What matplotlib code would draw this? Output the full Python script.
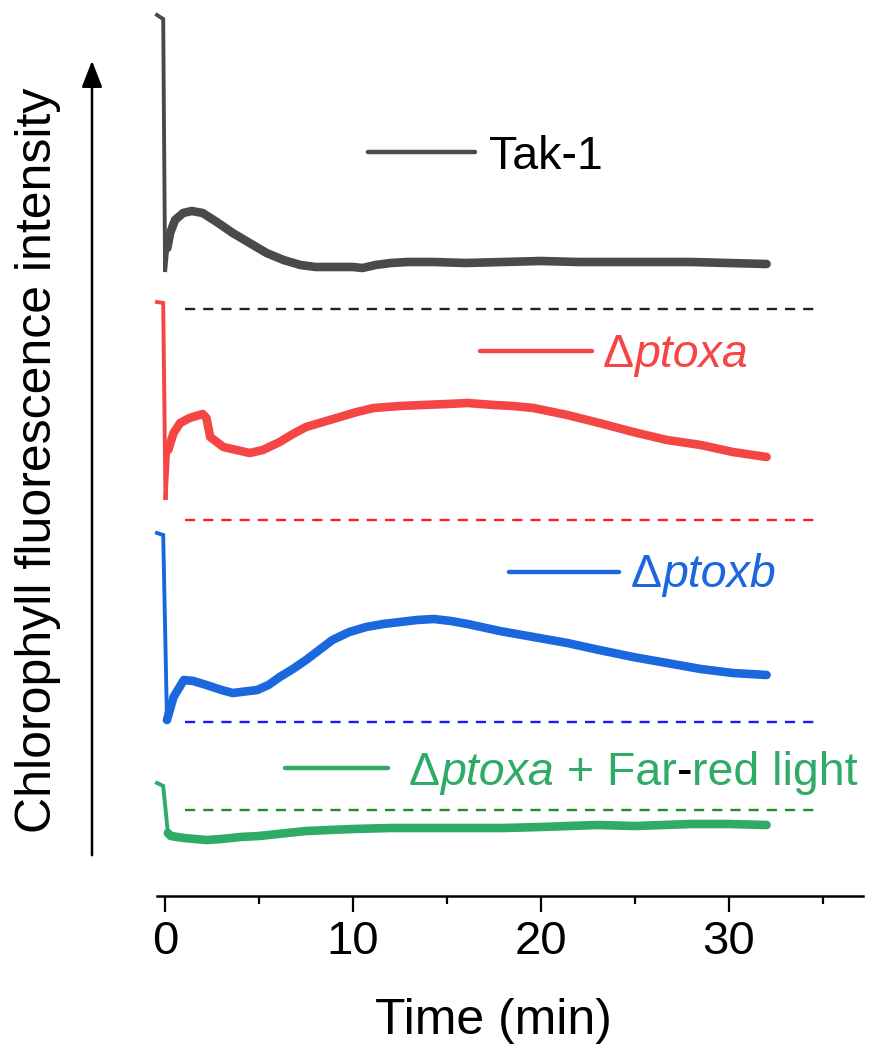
import numpy as np
import matplotlib
matplotlib.use("Agg")
import matplotlib.pyplot as plt
from matplotlib.patches import FancyArrowPatch
from matplotlib.offsetbox import TextArea, HPacker, AnchoredOffsetbox

plt.rcParams['font.family'] = ['Liberation Sans', 'DejaVu Sans']

# ---------------- data (arbitrary fluorescence units) ----------
tak_x = [-0.43, -0.1, 0.0, 0.12, 0.27, 0.53, 0.96, 1.42, 2.0, 2.75, 3.6, 4.5, 5.4, 6.3, 7.2,
         8.0, 8.6, 9.3, 10.0, 10.5, 11.2, 12.0, 12.9, 14.3, 16, 18, 20, 22, 24, 26, 28, 30, 32]
tak_y = [88.1, 87.7, 62.4, 64.8, 66.3, 67.6, 68.3, 68.5, 68.3, 67.4, 66.3, 65.3, 64.3, 63.6,
         63.1, 62.9, 62.9, 62.9, 62.9, 62.8, 63.1, 63.3, 63.4, 63.4, 63.3, 63.4, 63.5, 63.4,
         63.4, 63.4, 63.4, 63.3, 63.2]

ptoxa_x = [-0.43, -0.1, 0.02, 0.17, 0.45, 0.8, 1.3, 2.0, 2.2, 2.4, 3.1, 4.5, 5.2, 6.1, 6.8,
           7.5, 8.4, 9.3, 10.2, 11.1, 12.5, 13.7, 15.0, 16.1, 17.5, 18.5, 19.6, 21.4, 23.1,
           24.9, 26.7, 28.5, 30.2, 32]
ptoxa_y = [59.4, 59.3, 39.6, 44.6, 46.3, 47.3, 47.8, 48.2, 47.8, 45.9, 44.9, 44.3, 44.6, 45.4,
           46.2, 46.9, 47.4, 47.9, 48.4, 48.8, 49.0, 49.1, 49.2, 49.3, 49.1, 49.0, 48.8, 48.1,
           47.3, 46.4, 45.6, 45.1, 44.4, 43.9]

ptoxb_x = [-0.43, -0.1, 0.1, 0.45, 1.0, 1.5, 2.2, 3.0, 3.6, 4.9, 5.5, 6.1, 6.8, 7.5, 8.2,
           8.9, 9.8, 10.7, 11.6, 12.5, 13.4, 14.3, 15.2, 16.1, 17.8, 19.6, 21.4, 23.1, 24.9,
           26.7, 28.5, 30.2, 32]
ptoxb_y = [36.3, 36.1, 17.6, 19.9, 21.6, 21.5, 21.1, 20.6, 20.3, 20.6, 21.1, 21.9, 22.7, 23.6,
           24.6, 25.6, 26.4, 26.9, 27.2, 27.4, 27.6, 27.7, 27.5, 27.2, 26.5, 25.9, 25.3, 24.6,
           23.9, 23.3, 22.7, 22.3, 22.1]

fr_x = [-0.43, -0.1, 0.15, 0.3, 1.0, 2.2, 3.0, 4.0, 5.0, 7.5, 10, 12, 15, 18, 20, 23, 25,
        28, 30, 32]
fr_y = [11.3, 11.0, 6.3, 6.0, 5.8, 5.6, 5.7, 5.9, 6.0, 6.5, 6.7, 6.8, 6.8, 6.8, 6.9, 7.1,
        7.0, 7.2, 7.2, 7.1]

baseline_levels = [58.7, 37.6, 17.4, 8.6]
baseline_x = [1.06, 34.6]

xticks_major = [0, 10, 20, 30]
xticks_minor = [5, 15, 25, 35]

# ---------------- style ----------------
W, H = 882, 1052
c_tak = '#4a4a4a'
c_a = '#f54646'
c_b = '#1b67dd'
c_fr = '#2fab68'
dash_cols = ['#222222', '#ff1e1e', '#1a1aff', '#278a27']

fig = plt.figure(figsize=(W / 100, H / 100), dpi=100)
ax = fig.add_axes([157 / W, (H - 896) / H, (863 - 157) / W, 896 / H])
ax.set_xlim(-0.43, 37.13)
ax.set_ylim(0, 89.6)

series = [(tak_x, tak_y, c_tak), (ptoxa_x, ptoxa_y, c_a),
          (ptoxb_x, ptoxb_y, c_b), (fr_x, fr_y, c_fr)]
for xs, ys, col in series:
    xs = np.asarray(xs); ys = np.asarray(ys)
    ax.plot(xs, ys, color=col, lw=2.8, solid_joinstyle='miter', clip_on=False, zorder=3)
    m = xs >= 0.1
    ax.plot(xs[m], ys[m], color=col, lw=6.2, solid_capstyle='round',
            solid_joinstyle='round', clip_on=False, zorder=3)

for lvl, dc in zip(baseline_levels, dash_cols):
    ax.plot(baseline_x, [lvl, lvl], color=dc, lw=1.7, dashes=(4.3, 3.4), zorder=2)

for s in ['left', 'right', 'top']:
    ax.spines[s].set_visible(False)
ax.spines['bottom'].set_linewidth(1.8)
ax.set_yticks([])
ax.set_xticks(xticks_major)
ax.set_xticks(xticks_minor, minor=True)
ax.tick_params(axis='x', which='major', length=11.5, width=1.6, labelsize=34, pad=6)
ax.tick_params(axis='x', which='minor', length=5.8, width=1.6)

# axis labels
fig.text(493 / W, (H - 1034) / H, 'Time (min)', fontsize=36, ha='center', va='baseline')
fig.text(38 / W, (H - 460) / H, 'Chlorophyll fluorescence intensity', fontsize=36,
         rotation=90, ha='center', va='center')

# y arrow
arr = FancyArrowPatch((92 / W, (H - 858) / H), (92 / W, (H - 58) / H),
                      transform=fig.transFigure, arrowstyle='-|>,head_length=0.9,head_width=0.35',
                      mutation_scale=18, lw=1.8, color='black')
fig.add_artist(arr)

# legend entries
def entry(x0, x1, yline, xt, ybase, parts, col):
    fig.add_artist(plt.Line2D([x0 / W, x1 / W], [(H - yline) / H] * 2,
                              transform=fig.transFigure, color=col, lw=3.2,
                              solid_capstyle='round'))
    areas = [TextArea(t, textprops=dict(color=c, fontsize=33.5, fontstyle=st))
             for t, c, st in parts]
    box = HPacker(children=areas, align='baseline', pad=0, sep=0)
    ab = AnchoredOffsetbox(loc='lower left', child=box, pad=0, borderpad=0, frameon=False,
                           bbox_to_anchor=(xt / W, (H - ybase - 10) / H),
                           bbox_transform=fig.transFigure)
    fig.add_artist(ab)

entry(368, 475, 152, 489, 169, [('Tak-1', 'black', 'normal')], c_tak)
entry(480, 592, 351, 603, 367, [('Δ', c_a, 'normal'), ('ptoxa', c_a, 'italic')], c_a)
entry(509, 619, 572, 631, 587, [('Δ', c_b, 'normal'), ('ptoxb', c_b, 'italic')], c_b)
entry(285, 388, 768, 409, 785, [('Δ', c_fr, 'normal'), ('ptoxa', c_fr, 'italic'),
                                (' + Far', c_fr, 'normal'), ('-', 'black', 'normal'),
                                ('red light', c_fr, 'normal')], c_fr)

fig.savefig('out.png', dpi=100)
